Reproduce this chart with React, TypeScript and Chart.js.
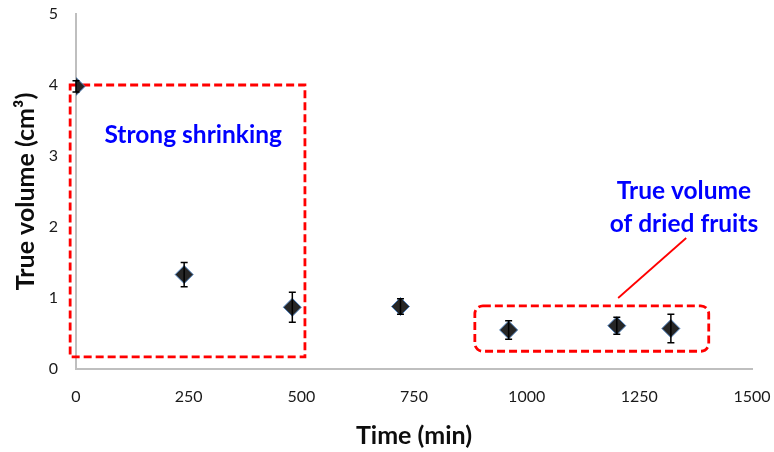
import React, { useEffect, useRef } from "react";
import { Chart, registerables } from "chart.js";

Chart.register(...registerables);

// ---- data ----
const times = [0, 240, 480, 720, 960, 1200, 1320];
const volumes = [3.98, 1.33, 0.87, 0.88, 0.55, 0.61, 0.57];
const errors = [0.08, 0.17, 0.21, 0.11, 0.13, 0.12, 0.2];
const xTickValues = [0, 250, 500, 750, 1000, 1250, 1500];
const yTickValues = [0, 1, 2, 3, 4, 5];

// ---- annotations (data coordinates) ----
const shrinkBox = [-13, 508, 0.17, 4.0];
const driedBox = [885, 1404, 0.25, 0.89];
const calloutLine = [1203, 1.0, 1354, 1.845];
const shrinkLabel = "Strong shrinking";
const shrinkLabelPos = [260, 3.29];
const driedLabels = ["True volume", "of dried fruits"];
const driedLabelX = 1349;
const driedLabelY = [2.5, 2.04];

const FONT = "Lato, 'Open Sans', sans-serif";

const annotationPlugin = {
  id: "annotations",
  beforeDatasetsDraw(chart: any) {
    const { ctx, scales } = chart;
    const xs = scales.x;
    const ys = scales.y;
    ctx.save();
    ctx.strokeStyle = "#ff0000";
    ctx.lineWidth = 2.8;
    ctx.setLineDash([8, 4]);
    {
      const l = xs.getPixelForValue(shrinkBox[0]);
      const r = xs.getPixelForValue(shrinkBox[1]);
      const b = ys.getPixelForValue(shrinkBox[2]);
      const t = ys.getPixelForValue(shrinkBox[3]);
      ctx.beginPath();
      ctx.rect(l, t, r - l, b - t);
      ctx.stroke();
    }
    {
      const l = xs.getPixelForValue(driedBox[0]);
      const r = xs.getPixelForValue(driedBox[1]);
      const b = ys.getPixelForValue(driedBox[2]);
      const t = ys.getPixelForValue(driedBox[3]);
      ctx.beginPath();
      (ctx as any).roundRect(l, t, r - l, b - t, 8);
      ctx.stroke();
    }
    ctx.setLineDash([]);
    ctx.lineWidth = 1.8;
    ctx.beginPath();
    ctx.moveTo(xs.getPixelForValue(calloutLine[0]), ys.getPixelForValue(calloutLine[1]));
    ctx.lineTo(xs.getPixelForValue(calloutLine[2]), ys.getPixelForValue(calloutLine[3]));
    ctx.stroke();

    ctx.fillStyle = "#0000ff";
    ctx.font = `bold 24.5px ${FONT}`;
    ctx.textAlign = "center";
    ctx.textBaseline = "middle";
    ctx.fillText(shrinkLabel, xs.getPixelForValue(shrinkLabelPos[0]), ys.getPixelForValue(shrinkLabelPos[1]));
    driedLabels.forEach((t, i) => {
      ctx.fillText(t, xs.getPixelForValue(driedLabelX), ys.getPixelForValue(driedLabelY[i]));
    });
    ctx.restore();
  },
  afterDatasetsDraw(chart: any) {
    const { ctx, scales } = chart;
    const xs = scales.x;
    const ys = scales.y;
    ctx.save();
    ctx.strokeStyle = "#000000";
    ctx.lineWidth = 1.5;
    times.forEach((t, i) => {
      const x = xs.getPixelForValue(t);
      const yTop = ys.getPixelForValue(volumes[i] + errors[i]);
      const yBot = ys.getPixelForValue(volumes[i] - errors[i]);
      ctx.beginPath();
      ctx.moveTo(x, yTop);
      ctx.lineTo(x, yBot);
      ctx.moveTo(x - 3.5, yTop);
      ctx.lineTo(x + 3.5, yTop);
      ctx.moveTo(x - 3.5, yBot);
      ctx.lineTo(x + 3.5, yBot);
      ctx.stroke();
    });
    ctx.restore();
  },
};

export default function App() {
  const ref = useRef<HTMLCanvasElement | null>(null);
  useEffect(() => {
    if (!ref.current) return;
    const chart = new Chart(ref.current, {
      type: "scatter",
      data: {
        datasets: [
          {
            data: times.map((t, i) => ({ x: t, y: volumes[i] })),
            pointStyle: "rectRot",
            pointRadius: 9,
            pointBackgroundColor: "#262626",
            pointBorderColor: "#4f81bd",
            pointBorderWidth: 1,
            showLine: false,
          },
        ],
      },
      options: {
        animation: false,
        responsive: false,
        layout: { padding: { left: 0, right: 22, top: 14, bottom: 0 } },
        plugins: {
          legend: { display: false },
          tooltip: { enabled: false },
        },
        scales: {
          x: {
            type: "linear",
            min: 0,
            max: 1500,
            afterBuildTicks: (s: any) => {
              s.ticks = xTickValues.map((v) => ({ value: v }));
            },
            afterFit: (s: any) => {
              s.height = 83;
              s.paddingLeft = 0;
              s.paddingRight = 0;
            },
            grid: { display: false, drawTicks: false },
            border: { display: true, color: "#bfbfbf", width: 2 },
            ticks: {
              color: "#1a1a1a",
              font: { family: FONT, size: 16 },
              padding: 18,
              maxRotation: 0,
              callback: (v: any) => String(v),
            },
            title: {
              display: true,
              text: "Time (min)",
              color: "#0d0d0d",
              font: { family: FONT, size: 25, weight: "bold" },
              padding: { top: 0, bottom: 1 },
            },
          },
          y: {
            type: "linear",
            min: 0,
            max: 5,
            afterBuildTicks: (s: any) => {
              s.ticks = yTickValues.map((v) => ({ value: v }));
            },
            afterFit: (s: any) => {
              s.width = 76;
              s.paddingTop = 0;
              s.paddingBottom = 0;
            },
            grid: { display: false, drawTicks: false },
            border: { display: true, color: "#bfbfbf", width: 2 },
            ticks: {
              color: "#1a1a1a",
              font: { family: FONT, size: 16 },
              padding: 18,
              callback: (v: any) => String(v),
            },
            title: {
              display: true,
              text: "True volume (cm³)",
              color: "#0d0d0d",
              font: { family: FONT, size: 25, weight: "bold" },
              padding: { top: 11, bottom: 0 },
            },
          },
        },
      },
      plugins: [annotationPlugin],
    });
    return () => chart.destroy();
  }, []);
  return (
    <div style={{ position: "fixed", left: 0, top: 0, width: 774, height: 452, background: "#fff" }}>
      <canvas ref={ref} width={774} height={452} style={{ display: "block" }} />
    </div>
  );
}
